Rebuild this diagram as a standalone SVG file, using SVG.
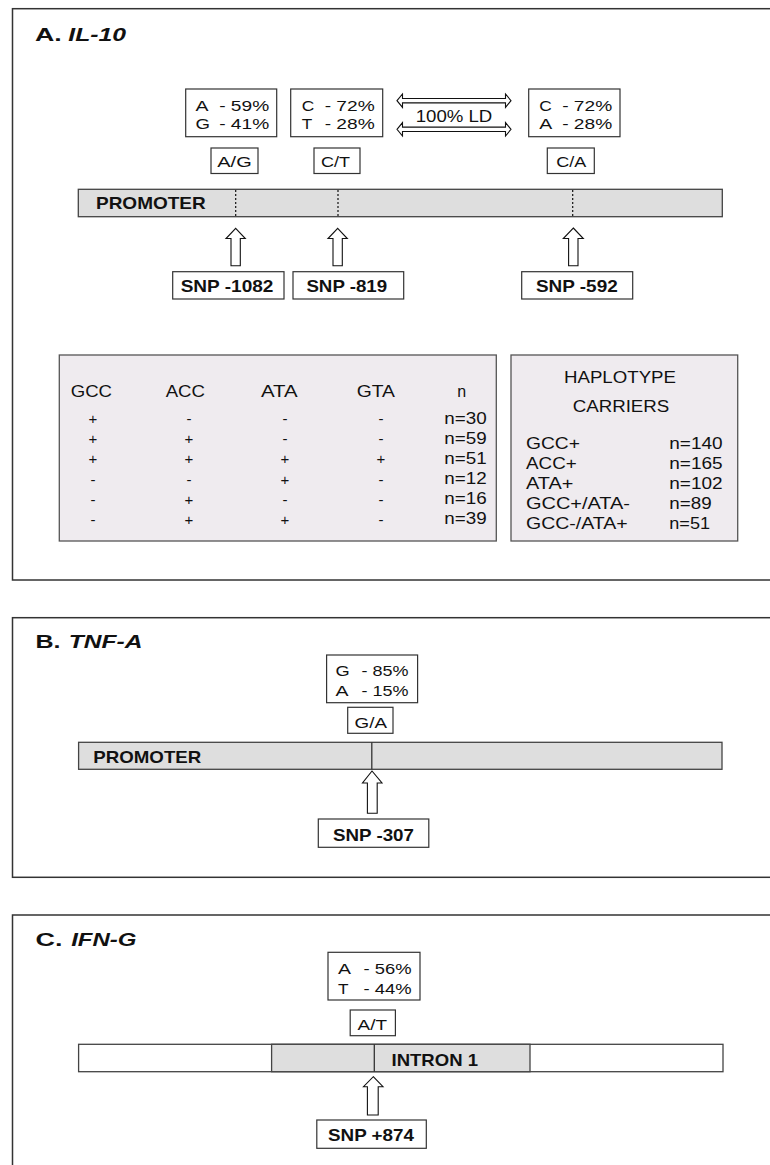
<svg xmlns="http://www.w3.org/2000/svg" width="770" height="1165" viewBox="0 0 770 1165">
<style>
.t{font-family:"Liberation Sans",Arial,sans-serif;fill:#111}
.b{font-weight:bold}
.bi{font-weight:bold;font-style:italic}
.p15{font-size:15.5px}
.p16{font-size:16px}
.p17{font-size:17px}
.ttl{font-size:19px}
.sym{font-size:15px;fill:#111}
.box{fill:#fff;stroke:#333;stroke-width:1.2}
.bar{fill:#dedede;stroke:#444;stroke-width:1.3}
.wbar{fill:#fff;stroke:#444;stroke-width:1.3}
.panel{fill:none;stroke:#333;stroke-width:1.5}
.tbl{fill:#efebef;stroke:#555;stroke-width:1.3}
.arr{fill:#fff;stroke:#111;stroke-width:1.1}
.dot{stroke:#111;stroke-width:1.2;stroke-dasharray:2,2}
.sol{stroke:#333;stroke-width:1.3}
</style>

<!-- Panel A -->
<g id="panelA">
<rect class="panel" x="12.5" y="8.7" width="800" height="571.3"/>
<text class="t b ttl" x="35" y="41.3" textLength="26.7" lengthAdjust="spacingAndGlyphs">A.</text>
<text class="t bi ttl" x="68.3" y="41.3" textLength="57.7" lengthAdjust="spacingAndGlyphs">IL-10</text>
</g>

<g id="freqA1">
<rect class="box" x="185.7" y="89" width="91" height="47.7"/>
<text class="t p15" x="195.5" y="110.8" textLength="13" lengthAdjust="spacingAndGlyphs">A</text>
<text class="t p15" x="219.2" y="110.8" textLength="50" lengthAdjust="spacingAndGlyphs">- 59%</text>
<text class="t p15" x="195.5" y="129.3" textLength="14.5" lengthAdjust="spacingAndGlyphs">G</text>
<text class="t p15" x="219.2" y="129.3" textLength="50" lengthAdjust="spacingAndGlyphs">- 41%</text>
</g>
<g id="freqA2">
<rect class="box" x="290.7" y="89" width="92" height="47.7"/>
<text class="t p15" x="301.7" y="110.8" textLength="12.5" lengthAdjust="spacingAndGlyphs">C</text>
<text class="t p15" x="324.7" y="110.8" textLength="50" lengthAdjust="spacingAndGlyphs">- 72%</text>
<text class="t p15" x="301.7" y="129.3" textLength="10.5" lengthAdjust="spacingAndGlyphs">T</text>
<text class="t p15" x="324.7" y="129.3" textLength="50" lengthAdjust="spacingAndGlyphs">- 28%</text>
</g>
<g id="freqA3">
<rect class="box" x="528.7" y="89" width="91.3" height="47.7"/>
<text class="t p15" x="539.3" y="110.8" textLength="12.5" lengthAdjust="spacingAndGlyphs">C</text>
<text class="t p15" x="562.2" y="110.8" textLength="50" lengthAdjust="spacingAndGlyphs">- 72%</text>
<text class="t p15" x="539.3" y="129.3" textLength="13" lengthAdjust="spacingAndGlyphs">A</text>
<text class="t p15" x="562.2" y="129.3" textLength="50" lengthAdjust="spacingAndGlyphs">- 28%</text>
</g>
<g id="ldLabel">
<text class="t p16" x="415.7" y="122.3" textLength="76.6" lengthAdjust="spacingAndGlyphs">100% LD</text>
</g>

<g id="alleleAG">
<rect class="box" x="211" y="148" width="47" height="25.5"/>
<text class="t p15" x="217.3" y="166.8" textLength="34.4" lengthAdjust="spacingAndGlyphs">A/G</text>
</g>
<g id="alleleCT">
<rect class="box" x="314" y="148" width="46" height="25.5"/>
<text class="t p15" x="321" y="166.8" textLength="29" lengthAdjust="spacingAndGlyphs">C/T</text>
</g>
<g id="alleleCA">
<rect class="box" x="547.3" y="148" width="47" height="25.5"/>
<text class="t p15" x="556.2" y="166.8" textLength="30" lengthAdjust="spacingAndGlyphs">C/A</text>
</g>

<g id="promoterA">
<rect class="bar" x="78.3" y="189.3" width="644" height="27.4"/>
<text class="t b p17" x="96" y="209.3" textLength="109.7" lengthAdjust="spacingAndGlyphs">PROMOTER</text>
<line class="dot" x1="235.7" y1="190" x2="235.7" y2="216"/>
<line class="dot" x1="338" y1="190" x2="338" y2="216"/>
<line class="dot" x1="572.7" y1="190" x2="572.7" y2="216"/>
</g>

<g id="snp1082">
<rect class="box" x="172.7" y="271.7" width="111.3" height="27.3"/>
<text class="t b p17" x="180.7" y="291.7" textLength="92.7" lengthAdjust="spacingAndGlyphs">SNP -1082</text>
</g>
<g id="snp819">
<rect class="box" x="293" y="271.7" width="110.7" height="27.3"/>
<text class="t b p17" x="306.4" y="291.7" textLength="80.8" lengthAdjust="spacingAndGlyphs">SNP -819</text>
</g>
<g id="snp592">
<rect class="box" x="521.7" y="271.7" width="111" height="27.3"/>
<text class="t b p17" x="536" y="291.7" textLength="81.7" lengthAdjust="spacingAndGlyphs">SNP -592</text>
</g>

<g id="haploTable">
<rect class="tbl" x="59.3" y="355" width="437" height="186"/>
<text class="t p16" x="70.7" y="397" textLength="41.3" lengthAdjust="spacingAndGlyphs">GCC</text>
<text class="t p16" x="165.7" y="397" textLength="39.3" lengthAdjust="spacingAndGlyphs">ACC</text>
<text class="t p16" x="261" y="397" textLength="36.7" lengthAdjust="spacingAndGlyphs">ATA</text>
<text class="t p16" x="356.7" y="397" textLength="38.3" lengthAdjust="spacingAndGlyphs">GTA</text>
<text class="t p16" x="461.7" y="397" text-anchor="middle">n</text>
<g class="t sym" text-anchor="middle">
<text x="93" y="423.5">+</text><text x="189" y="423.5">-</text><text x="285" y="423.5">-</text><text x="381" y="423.5">-</text>
<text x="93" y="444">+</text><text x="189" y="444">+</text><text x="285" y="444">-</text><text x="381" y="444">-</text>
<text x="93" y="464">+</text><text x="189" y="464">+</text><text x="285" y="464">+</text><text x="381" y="464">+</text>
<text x="93" y="484.5">-</text><text x="189" y="484.5">-</text><text x="285" y="484.5">+</text><text x="381" y="484.5">-</text>
<text x="93" y="504.5">-</text><text x="189" y="504.5">+</text><text x="285" y="504.5">-</text><text x="381" y="504.5">-</text>
<text x="93" y="524.5">-</text><text x="189" y="524.5">+</text><text x="285" y="524.5">+</text><text x="381" y="524.5">-</text>
</g>
<text class="t p16" x="444.3" y="424.3" textLength="42.4" lengthAdjust="spacingAndGlyphs">n=30</text>
<text class="t p16" x="444.3" y="444.3" textLength="42.4" lengthAdjust="spacingAndGlyphs">n=59</text>
<text class="t p16" x="444.3" y="464.3" textLength="42.4" lengthAdjust="spacingAndGlyphs">n=51</text>
<text class="t p16" x="444.3" y="484.3" textLength="42.4" lengthAdjust="spacingAndGlyphs">n=12</text>
<text class="t p16" x="444.3" y="504.3" textLength="42.4" lengthAdjust="spacingAndGlyphs">n=16</text>
<text class="t p16" x="444.3" y="524.3" textLength="42.4" lengthAdjust="spacingAndGlyphs">n=39</text>
</g>

<g id="haploCarriers">
<rect class="tbl" x="511" y="355" width="226.7" height="186"/>
<text class="t p16" x="620" y="383" text-anchor="middle" textLength="112" lengthAdjust="spacingAndGlyphs">HAPLOTYPE</text>
<text class="t p16" x="621" y="411.7" text-anchor="middle" textLength="96.7" lengthAdjust="spacingAndGlyphs">CARRIERS</text>
<text class="t p16" x="526" y="449" textLength="54" lengthAdjust="spacingAndGlyphs">GCC+</text>
<text class="t p16" x="526" y="469" textLength="50.7" lengthAdjust="spacingAndGlyphs">ACC+</text>
<text class="t p16" x="526" y="489" textLength="47.3" lengthAdjust="spacingAndGlyphs">ATA+</text>
<text class="t p16" x="526" y="509" textLength="104" lengthAdjust="spacingAndGlyphs">GCC+/ATA-</text>
<text class="t p16" x="526" y="528.5" textLength="101.7" lengthAdjust="spacingAndGlyphs">GCC-/ATA+</text>
<text class="t p16" x="669.3" y="449" textLength="53.3" lengthAdjust="spacingAndGlyphs">n=140</text>
<text class="t p16" x="669.3" y="469" textLength="53.3" lengthAdjust="spacingAndGlyphs">n=165</text>
<text class="t p16" x="669.3" y="489" textLength="53.3" lengthAdjust="spacingAndGlyphs">n=102</text>
<text class="t p16" x="669.3" y="509" textLength="42.3" lengthAdjust="spacingAndGlyphs">n=89</text>
<text class="t p16" x="669.3" y="528.5" textLength="40.7" lengthAdjust="spacingAndGlyphs">n=51</text>
</g>

<!-- Panel B -->
<g id="panelB">
<rect class="panel" x="12.5" y="617.7" width="800" height="259.6"/>
<text class="t b ttl" x="35.4" y="648.3" textLength="25" lengthAdjust="spacingAndGlyphs">B.</text>
<text class="t bi ttl" x="68.8" y="648.3" textLength="73.6" lengthAdjust="spacingAndGlyphs">TNF-A</text>
</g>
<g id="freqB">
<rect class="box" x="326.6" y="655" width="91" height="47.7"/>
<text class="t p15" x="335.5" y="676.3" textLength="14.2" lengthAdjust="spacingAndGlyphs">G</text>
<text class="t p15" x="361.5" y="676.3" textLength="47" lengthAdjust="spacingAndGlyphs">- 85%</text>
<text class="t p15" x="335.5" y="696.3" textLength="13" lengthAdjust="spacingAndGlyphs">A</text>
<text class="t p15" x="361.5" y="696.3" textLength="47" lengthAdjust="spacingAndGlyphs">- 15%</text>
</g>
<g id="alleleGA">
<rect class="box" x="347.7" y="707.3" width="45.3" height="26"/>
<text class="t p15" x="354.6" y="728.3" textLength="32.4" lengthAdjust="spacingAndGlyphs">G/A</text>
</g>
<g id="promoterB">
<rect class="bar" x="78.6" y="742.3" width="643.4" height="27"/>
<text class="t b p17" x="93.3" y="762.7" textLength="108" lengthAdjust="spacingAndGlyphs">PROMOTER</text>
<line class="sol" x1="371.8" y1="742.3" x2="371.8" y2="769.3"/>
</g>
<g id="snp307">
<rect class="box" x="318.3" y="819" width="110.5" height="28.3"/>
<text class="t b p17" x="333" y="840.7" textLength="81" lengthAdjust="spacingAndGlyphs">SNP -307</text>
</g>

<!-- Panel C -->
<g id="panelC">
<rect class="panel" x="12.5" y="915" width="800" height="300"/>
<text class="t b ttl" x="35.4" y="946" textLength="27" lengthAdjust="spacingAndGlyphs">C.</text>
<text class="t bi ttl" x="71.2" y="946" textLength="65.3" lengthAdjust="spacingAndGlyphs">IFN-G</text>
</g>
<g id="freqC">
<rect class="box" x="328" y="952.3" width="92" height="47.7"/>
<text class="t p15" x="338" y="974.3" textLength="13" lengthAdjust="spacingAndGlyphs">A</text>
<text class="t p15" x="363.5" y="974.3" textLength="48" lengthAdjust="spacingAndGlyphs">- 56%</text>
<text class="t p15" x="338" y="994.3" textLength="10.5" lengthAdjust="spacingAndGlyphs">T</text>
<text class="t p15" x="363.5" y="994.3" textLength="48" lengthAdjust="spacingAndGlyphs">- 44%</text>
</g>
<g id="alleleAT">
<rect class="box" x="350.2" y="1010" width="45.2" height="25.7"/>
<text class="t p15" x="357.6" y="1030" textLength="29.4" lengthAdjust="spacingAndGlyphs">A/T</text>
</g>
<g id="geneC">
<rect class="wbar" x="78.6" y="1044.3" width="644.4" height="27.4"/>
<rect class="bar" x="271.6" y="1044.3" width="258.4" height="27.4"/>
<line class="sol" x1="374.3" y1="1044.3" x2="374.3" y2="1071.7"/>
<text class="t b p17" x="391.5" y="1065.7" textLength="86.5" lengthAdjust="spacingAndGlyphs">INTRON 1</text>
</g>
<g id="snp874">
<rect class="box" x="316.8" y="1120" width="109.5" height="28.3"/>
<text class="t b p17" x="328" y="1140.7" textLength="86" lengthAdjust="spacingAndGlyphs">SNP +874</text>
</g>

<!-- Connectors -->
<g id="connectors">
<polygon class="arr" points="397,100.7 402.5,94 402.5,98.5 505.5,98.5 505.5,94 511,100.7 505.5,107.4 505.5,102.9 402.5,102.9 402.5,107.4"/>
<polygon class="arr" points="397,129.3 402.5,122.6 402.5,127.1 505.5,127.1 505.5,122.6 511,129.3 505.5,136 505.5,131.5 402.5,131.5 402.5,136"/>
<polygon class="arr" points="235.7,228.3 245.3,238.5 240.3,238.5 240.3,265.7 231,265.7 231,238.5 226,238.5"/>
<polygon class="arr" points="337.7,228.3 347.3,238.5 342.3,238.5 342.3,265.7 333,265.7 333,238.5 328,238.5"/>
<polygon class="arr" points="573.3,228 583.3,238.5 578,238.5 578,265.7 568.6,265.7 568.6,238.5 563.3,238.5"/>
<polygon class="arr" points="372,771 382,783 377.2,783 377.2,813.3 367.4,813.3 367.4,783 362.5,783"/>
<polygon class="arr" points="373.3,1076.7 383,1086.7 378.2,1086.7 378.2,1115 367.4,1115 367.4,1086.7 363.5,1086.7"/>
</g>
</svg>
